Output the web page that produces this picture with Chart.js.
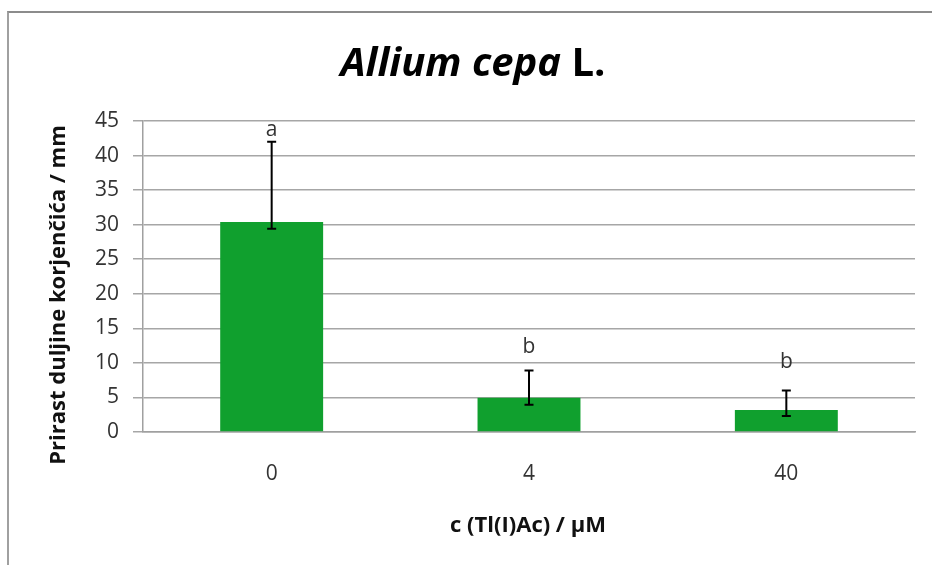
<!DOCTYPE html>
<html>
<head>
<meta charset="utf-8">
<script src="https://cdn.jsdelivr.net/npm/chart.js@4"></script>
<style>
  html, body { margin: 0; padding: 0; background: #fff; }
  #wrap { position: relative; width: 932px; height: 565px; overflow: hidden; }
  #frame { position: absolute; left: 7px; top: 11px; width: 1000px; height: 1000px;
           border-top: 2px solid #8c8c8c; border-left: 2px solid #a0a0a0; }
  canvas { position: absolute; left: 0; top: 0; }
</style>
</head>
<body>
<div id="wrap">
  <div id="frame"></div>
  <canvas id="myChart" width="932" height="565"></canvas>
</div>
<script>
  // data
  const concentrations = ['0', '4', '40']
  const rootGrowth = [30.4, 4.95, 3.2]
  const errLow = [29.4, 3.95, 2.3]
  const errHigh = [42.0, 8.9, 6.0]
  const letters = ['a', 'b', 'b']
  const letterAt = [42.9, 11.5, 9.3]
  const yTicks = [0, 5, 10, 15, 20, 25, 30, 35, 40, 45]

  const font = '"Open Sans", "Noto Sans", sans-serif'

  // error bars, significance letters, titles
  const extras = {
    id: 'extras',
    afterDatasetsDraw (chart) {
      const { ctx, scales: { x, y } } = chart
      ctx.save()
      ctx.strokeStyle = '#000'
      ctx.lineWidth = 2
      concentrations.forEach((c, i) => {
        const cx = x.getPixelForValue(i)
        const yl = y.getPixelForValue(errLow[i])
        const yh = y.getPixelForValue(errHigh[i])
        ctx.beginPath()
        ctx.moveTo(cx, yl); ctx.lineTo(cx, yh)
        ctx.moveTo(cx - 4.5, yl); ctx.lineTo(cx + 4.5, yl)
        ctx.moveTo(cx - 4.5, yh); ctx.lineTo(cx + 4.5, yh)
        ctx.stroke()

        ctx.fillStyle = '#333'
        ctx.font = '21px ' + font
        ctx.textAlign = 'center'
        ctx.textBaseline = 'alphabetic'
        ctx.fillText(letters[i], cx, y.getPixelForValue(letterAt[i]))
      })

      // chart title: italic genus/species, upright authority
      ctx.fillStyle = '#000'
      ctx.textBaseline = 'alphabetic'
      const t1 = 'Allium cepa'
      const t2 = ' L.'
      ctx.font = 'italic bold 40px ' + font
      const w1 = ctx.measureText(t1).width
      ctx.font = 'bold 40px ' + font
      const w2 = ctx.measureText(t2).width
      const left = 473 - (w1 + w2) / 2
      ctx.font = 'italic bold 40px ' + font
      ctx.textAlign = 'left'
      ctx.fillText(t1, left, 76)
      ctx.font = 'bold 40px ' + font
      ctx.fillText(t2, left + w1, 76)

      // axis titles
      ctx.font = 'bold 22px ' + font
      ctx.textAlign = 'center'
      ctx.textBaseline = 'middle'
      ctx.fillStyle = '#111'
      ctx.fillText('c (Tl(I)Ac) / µM', 528, 526)
      ctx.translate(59, 295)
      ctx.rotate(-Math.PI / 2)
      ctx.fillText('Prirast duljine korjenčića / mm', 0, 0)
      ctx.restore()
    }
  }

  new Chart(document.getElementById('myChart'), {
    type: 'bar',
    data: {
      labels: concentrations,
      datasets: [{
        data: rootGrowth,
        backgroundColor: '#10a02e',
        borderWidth: 0,
        barPercentage: 0.4,
        categoryPercentage: 1
      }]
    },
    options: {
      responsive: false,
      animation: false,
      devicePixelRatio: 1,
      layout: { padding: { top: 121, right: 17, bottom: 0, left: 0 } },
      scales: {
        x: {
          grid: { display: false, drawTicks: false },
          border: { display: true, color: '#a0a0a0', width: 1.5 },
          ticks: { color: '#333', padding: 29, font: { family: font, size: 21 } },
          afterFit (scale) { scale.height = 133 }
        },
        y: {
          min: 0,
          max: 45,
          afterBuildTicks (scale) { scale.ticks = yTicks.map(v => ({ value: v })) },
          grid: { color: '#a6a6a6', lineWidth: 1.5, tickLength: 10 },
          border: { display: true, color: '#a0a0a0', width: 1.5 },
          ticks: { color: '#333', padding: 14, font: { family: font, size: 21 } },
          afterFit (scale) { scale.width = 143 }
        }
      },
      plugins: {
        legend: { display: false },
        tooltip: { enabled: false }
      }
    },
    plugins: [extras]
  })
</script>
</body>
</html>
